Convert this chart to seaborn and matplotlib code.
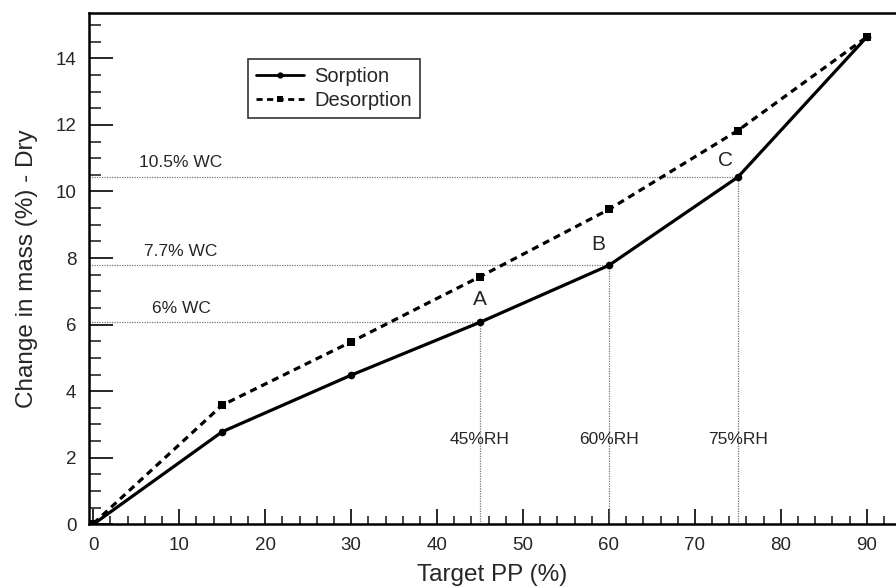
import matplotlib
matplotlib.use("Agg")
import matplotlib.pyplot as plt
import seaborn as sns
import pandas as pd
from matplotlib.ticker import MultipleLocator

# ---- data ----
target_pp = [0, 15, 30, 45, 60, 75, 90]
sorption = [0.0, 2.78, 4.48, 6.07, 7.78, 10.43, 14.64]
desorption = [0.02, 3.58, 5.48, 7.44, 9.46, 11.83, 14.64]

wc_levels = [6.07, 7.78, 10.43]
wc_labels = ["6% WC", "7.7% WC", "10.5% WC"]
rh_levels = [45, 60, 75]
rh_labels = ["45%RH", "60%RH", "75%RH"]
point_labels = ["A", "B", "C"]

df = pd.DataFrame({"pp": target_pp, "sorption": sorption, "desorption": desorption})

sns.set_style("ticks")
plt.rcParams["font.family"] = ["Liberation Sans", "DejaVu Sans"]

fig = plt.figure(figsize=(8.96, 5.88), dpi=100)
ax = fig.add_axes([89 / 896, 1 - 524.3 / 588, 1 - 89 / 896, (524.3 - 12.7) / 588])

sns.lineplot(data=df, x="pp", y="sorption", ax=ax, color="black", lw=2.3,
             marker="o", markersize=5.5, markeredgewidth=0, label="Sorption")
sns.lineplot(data=df, x="pp", y="desorption", ax=ax, color="black", lw=2.3,
             linestyle=(0, (2.2, 1.6)), marker="s", markersize=6, markeredgewidth=0,
             label="Desorption")

xmin = -0.5
# reference lines
for lvl, x, lab in zip(wc_levels, rh_levels, wc_labels):
    ax.plot([xmin, x], [lvl, lvl], color="#777777", lw=0.9, ls=(0, (1, 1)), zorder=1)
    ax.plot([x, x], [0, lvl], color="#777777", lw=0.9, ls=(0, (1, 1)), zorder=1)
    ax.text(10.2, lvl + 0.2, lab, ha="center", va="bottom", fontsize=12.5)

for x, lab in zip(rh_levels, rh_labels):
    ax.text(x, 2.55, lab, ha="center", va="center", fontsize=12.5)

offsets = [(0.0, 0.68), (-1.2, 0.62), (-1.4, 0.5)]
for x, y, lab, (dx, dy) in zip(rh_levels, wc_levels, point_labels, offsets):
    ax.text(x + dx, y + dy, lab, ha="center", va="center", fontsize=15)

ax.set_xlim(xmin, 93.4)
ax.set_ylim(0, 15.37)
ax.xaxis.set_major_locator(MultipleLocator(10))
ax.xaxis.set_minor_locator(MultipleLocator(2))
ax.yaxis.set_major_locator(MultipleLocator(2))
ax.yaxis.set_minor_locator(MultipleLocator(0.5))

ax.tick_params(axis="x", which="major", direction="in", length=10.5, width=1.4,
               labelsize=13.5, pad=9)
ax.tick_params(axis="x", which="minor", direction="in", length=5.5, width=1.2)
ax.tick_params(axis="y", which="major", direction="in", length=17, width=1.4,
               labelsize=13.5, pad=9)
ax.tick_params(axis="y", which="minor", direction="in", length=8.5, width=1.2)
ax.tick_params(top=False, right=False, which="both")

for side in ["left", "bottom", "top"]:
    ax.spines[side].set_linewidth(1.8)
    ax.spines[side].set_color("black")
ax.spines["right"].set_visible(False)

ax.set_xlabel("Target PP (%)", fontsize=17.5, labelpad=7)
ax.set_ylabel("Change in mass (%) - Dry", fontsize=17.5, labelpad=13)

leg = ax.legend(loc="upper left", bbox_to_anchor=(0.197, 0.9095), borderaxespad=0,
                fontsize=14.5, frameon=True, fancybox=False, edgecolor="black",
                handlelength=2.4, numpoints=1, borderpad=0.4, labelspacing=0.25,
                handletextpad=0.5)
leg.get_frame().set_linewidth(1.2)
for h in leg.legend_handles:
    h.set_markersize(4.5)
    h.set_linewidth(2)

fig.savefig("out.png", dpi=100)
